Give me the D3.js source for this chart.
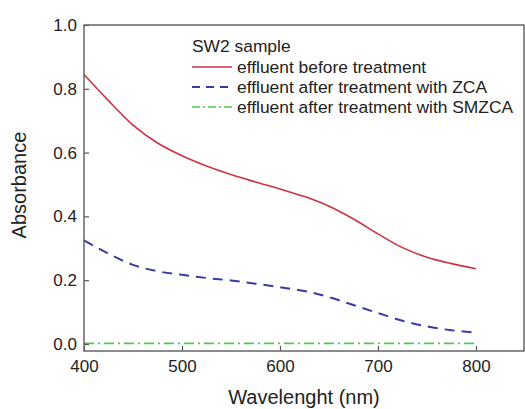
<!DOCTYPE html>
<html>
<head>
<meta charset="utf-8">
<script src="https://cdn.jsdelivr.net/npm/d3@7"></script>
<style>
    body { margin: 0; background: #fff; }
    text { font-family: "Liberation Sans", Arial, sans-serif; fill: #222; }
</style>
</head>
<body>
<script>
//data
var wavelength = [400, 425, 450, 475, 500, 525, 550, 575, 600, 625, 650, 675, 700, 725, 750, 775, 800];
var beforeTreatment = [0.845, 0.763, 0.686, 0.630, 0.590, 0.558, 0.531, 0.508, 0.486, 0.462, 0.432, 0.392, 0.345, 0.302, 0.272, 0.252, 0.236];
var afterZCA = [0.325, 0.283, 0.248, 0.228, 0.217, 0.207, 0.199, 0.189, 0.178, 0.166, 0.147, 0.122, 0.097, 0.073, 0.055, 0.043, 0.036];
var afterSMZCA = [0.002, 0.002, 0.002, 0.002, 0.002, 0.002, 0.002, 0.002, 0.002, 0.002, 0.002, 0.002, 0.002, 0.002, 0.002, 0.002, 0.002];
var xTicks = [400, 500, 600, 700, 800];
var yTicks = [0.0, 0.2, 0.4, 0.6, 0.8, 1.0];
var seriesNames = ["effluent before treatment", "effluent after treatment with ZCA", "effluent after treatment with SMZCA"];

(function(){
    var width = 525, height = 409;
    var margin = {left: 84, top: 25, right: 1, bottom: 58};
    var innerW = width - margin.left - margin.right,
        innerH = height - margin.top - margin.bottom;

    var svg = d3.select("body").append("svg")
        .attr("width", width)
        .attr("height", height);

    var g = svg.append("g")
        .attr("transform", "translate(" + margin.left + "," + margin.top + ")");

    var x = d3.scaleLinear().domain([400, 849]).range([0, innerW]);
    var y = d3.scaleLinear().domain([-0.022, 1.0]).range([innerH, 0]);

    //series styles
    var series = [
        {name: seriesNames[0], values: beforeTreatment, color: "#cc3340", width: 1.6, dash: null, legendDash: null},
        {name: seriesNames[1], values: afterZCA, color: "#3b3aa3", width: 2, dash: "10,7", legendDash: "8,6"},
        {name: seriesNames[2], values: afterSMZCA, color: "#4ccc4c", width: 1.6, dash: "10,4,2,4", legendDash: "8,3,2,3"}
    ];

    var line = d3.line()
        .x(function(d){ return x(d[0]); })
        .y(function(d){ return y(d[1]); })
        .curve(d3.curveMonotoneX);

    series.forEach(function(s){
        g.append("path")
            .datum(wavelength.map(function(w, i){ return [w, s.values[i]]; }))
            .attr("fill", "none")
            .attr("stroke", s.color)
            .attr("stroke-width", s.width)
            .attr("stroke-dasharray", s.dash)
            .attr("d", line);
    });

    //axes with inward ticks
    var xAxis = g.append("g")
        .attr("transform", "translate(0," + innerH + ")")
        .call(d3.axisBottom(x).tickValues(xTicks).tickSizeInner(-5).tickSizeOuter(0).tickPadding(9));
    var yAxis = g.append("g")
        .call(d3.axisLeft(y).tickValues(yTicks).tickFormat(d3.format(".1f")).tickSizeInner(-5).tickSizeOuter(0).tickPadding(7));

    [xAxis, yAxis].forEach(function(ax){
        ax.select(".domain").remove();
        ax.selectAll("line").attr("stroke", "#555").attr("stroke-width", 1.2);
        ax.selectAll("text")
            .style("font-family", "Liberation Sans, Arial, sans-serif")
            .style("font-size", "17px")
            .attr("fill", "#222");
    });

    //frame
    g.append("rect")
        .attr("width", innerW)
        .attr("height", innerH)
        .attr("fill", "none")
        .attr("stroke", "#666")
        .attr("stroke-width", 1.5);

    //axis titles
    svg.append("text")
        .attr("x", margin.left + innerW / 2)
        .attr("y", 404)
        .attr("text-anchor", "middle")
        .style("font-size", "20px")
        .text("Wavelenght (nm)");

    svg.append("text")
        .attr("transform", "translate(26," + (margin.top + innerH / 2 - 3) + ") rotate(-90)")
        .attr("text-anchor", "middle")
        .style("font-size", "20px")
        .text("Absorbance");

    //legend
    var legend = svg.append("g").attr("transform", "translate(192,0)");
    legend.append("text")
        .attr("x", 0)
        .attr("y", 52)
        .style("font-size", "17.4px")
        .text("SW2 sample");

    series.forEach(function(s, i){
        var ly = 67 + i * 20;
        legend.append("line")
            .attr("x1", 0).attr("x2", 40)
            .attr("y1", ly).attr("y2", ly)
            .attr("stroke", s.color)
            .attr("stroke-width", s.width)
            .attr("stroke-dasharray", s.legendDash);
        legend.append("text")
            .attr("x", 45)
            .attr("y", ly + 6)
            .style("font-size", "17.4px")
            .text(s.name);
    });
})();
</script>
</body>
</html>
